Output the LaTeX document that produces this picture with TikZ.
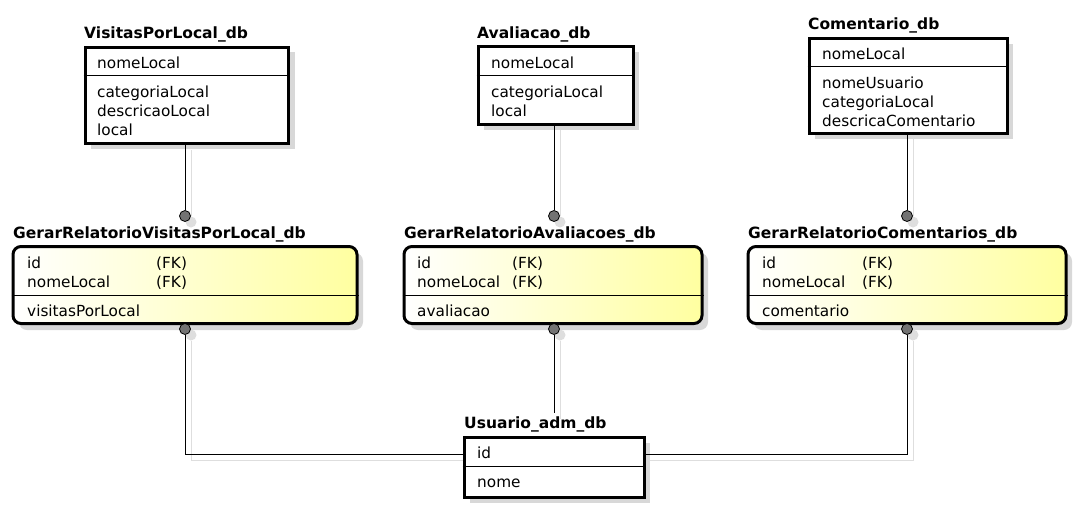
\documentclass[tikz,border=0pt]{standalone}
\usepackage{fontspec}
\setmainfont{DejaVu Sans}
\usetikzlibrary{calc}
\definecolor{shadowc}{RGB}{216,216,216}
\definecolor{lineshadow}{RGB}{222,222,222}
\definecolor{yel}{RGB}{255,255,160}
\definecolor{dotc}{RGB}{115,115,115}
\tikzset{
  ent/.style={draw=black, line width=3pt, fill=white, inner sep=0pt},
  relent/.style={draw=black, line width=3pt, rounded corners=8pt, left color=white, right color=yel, inner sep=0pt},
  shd/.style={fill=shadowc},
  divline/.style={line width=1pt},
  ttl/.style={anchor=base west, inner sep=0pt, font=\fontsize{15.5}{18}\selectfont\bfseries},
  attr/.style={anchor=base west, inner sep=0pt, font=\fontsize{15.3}{18}\selectfont},
  conn/.style={line width=1pt},
  connshd/.style={line width=1pt, draw=lineshadow},
  dot/.style={circle, draw=black, line width=0.8pt, fill=dotc, minimum size=11pt, inner sep=0pt},
  dotshd/.style={circle, fill=lineshadow, minimum size=11pt, inner sep=0pt},
}
\begin{document}
\begin{tikzpicture}[x=1pt,y=-1pt]
\useasboundingbox (0,0) rectangle (1080,509);
% ---------- dot shadows ----------
\node[dotshd] (s1) at (191,222) {};
\node[dotshd] (s2) at (560,222) {};
\node[dotshd] (s3) at (913,222) {};
\node[dotshd] (s4) at (191,335) {};
\node[dotshd] (s5) at (560,335) {};
\node[dotshd] (s6) at (913,335) {};
% ---------- connector shadows ----------
\draw[connshd] (191,150) -- (s1);
\draw[connshd] (560,130) -- (s2);
\draw[connshd] (913,139) -- (s3);
\draw[connshd] (s4) |- (470,460);
\draw[connshd] (s5) -- (560,419);
\draw[connshd] (s6) |- (650,460);
% ---------- box shadows ----------
\fill[shd] (91,52) rectangle (295,149);
\fill[shd] (484,52) rectangle (639,130);
\fill[shd] (815,44) rectangle (1013,139);
\fill[shd, rounded corners=8pt] (19,253) rectangle (363,330);
\fill[shd, rounded corners=8pt] (410,253) rectangle (708,330);
\fill[shd, rounded corners=8pt] (754,253) rectangle (1072,330);
\fill[shd] (470,443) rectangle (650,503);
% ---------- entity boxes ----------
\node[ent, minimum width=203pt, minimum height=96pt] (vis) at (186.5,95) {};
\node[ent, minimum width=155pt, minimum height=78pt] (ava) at (555.5,85) {};
\node[ent, minimum width=198pt, minimum height=95pt] (com) at (908,85.5) {};
\node[relent, minimum width=344pt, minimum height=77pt] (gvis) at (185,285) {};
\node[relent, minimum width=298pt, minimum height=77pt] (gava) at (553,285) {};
\node[relent, minimum width=318pt, minimum height=77pt] (gcom) at (907,285) {};
\node[ent, minimum width=180pt, minimum height=60pt] (usr) at (554,467) {};
% dividers
\draw[divline] (vis.west |- 0,75) -- (vis.east |- 0,75);
\draw[divline] (ava.west |- 0,75) -- (ava.east |- 0,75);
\draw[divline] (com.west |- 0,66) -- (com.east |- 0,66);
\draw[divline] (gvis.west |- 0,295) -- (gvis.east |- 0,295);
\draw[divline] (gava.west |- 0,295) -- (gava.east |- 0,295);
\draw[divline] (gcom.west |- 0,295) -- (gcom.east |- 0,295);
\draw[divline] (usr.west |- 0,466) -- (usr.east |- 0,466);
% ---------- titles ----------
\node[ttl] (tvis) at (84,38) {VisitasPorLocal\_db};
\node[ttl] (tava) at (477,38) {Avaliacao\_db};
\node[ttl] (tcom) at (808,29) {Comentario\_db};
\node[ttl] (tgvis) at (13,238) {GerarRelatorioVisitasPorLocal\_db};
\node[ttl] (tgava) at (404,238) {GerarRelatorioAvaliacoes\_db};
\node[ttl] (tgcom) at (748,238) {GerarRelatorioComentarios\_db};
\node[ttl] (tusr) at (464,428) {Usuario\_adm\_db};
% ---------- attributes ----------
\node[attr] (vis1) at (97,68) {nomeLocal};
\node[attr] (vis2) at (97,97) {categoriaLocal};
\node[attr] (vis3) at (97,116) {descricaoLocal};
\node[attr] (vis4) at (97,135) {local};
\node[attr] (ava1) at (491,68) {nomeLocal};
\node[attr] (ava2) at (491,97) {categoriaLocal};
\node[attr] (ava3) at (491,116) {local};
\node[attr] (com1) at (822,59) {nomeLocal};
\node[attr] (com2) at (822,88) {nomeUsuario};
\node[attr] (com3) at (822,107) {categoriaLocal};
\node[attr] (com4) at (822,126) {descricaComentario};
\node[attr] (gvis1) at (27,268) {id};
\node[attr] (gvis1b) at (156,268) {(FK)};
\node[attr] (gvis2) at (27,287) {nomeLocal};
\node[attr] (gvis2b) at (156,287) {(FK)};
\node[attr] (gvis3) at (27,316) {visitasPorLocal};
\node[attr] (gava1) at (417,268) {id};
\node[attr] (gava1b) at (512,268) {(FK)};
\node[attr] (gava2) at (417,287) {nomeLocal};
\node[attr] (gava2b) at (512,287) {(FK)};
\node[attr] (gava3) at (417,316) {avaliacao};
\node[attr] (gcom1) at (762,268) {id};
\node[attr] (gcom1b) at (862,268) {(FK)};
\node[attr] (gcom2) at (762,287) {nomeLocal};
\node[attr] (gcom2b) at (862,287) {(FK)};
\node[attr] (gcom3) at (762,316) {comentario};
\node[attr] (usr1) at (477,458) {id};
\node[attr] (usr2) at (477,487) {nome};
% ---------- connectors ----------
\node[dot] (d1) at (185,216) {};
\node[dot] (d2) at (554,216) {};
\node[dot] (d3) at (907,216) {};
\node[dot] (d4) at (185,329) {};
\node[dot] (d5) at (554,329) {};
\node[dot] (d6) at (907,329) {};
\coordinate (usrL) at (usr.west |- 0,454);
\coordinate (usrR) at (usr.east |- 0,454);
\coordinate (usrT) at (554,413);
\draw[conn] (d1 |- vis.south) -- (d1);
\draw[conn] (d2 |- ava.south) -- (d2);
\draw[conn] (d3 |- com.south) -- (d3);
\draw[conn] (d4) |- (usrL);
\draw[conn] (d5) -- (usrT);
\draw[conn] (d6) |- (usrR);
\end{tikzpicture}
\end{document}
